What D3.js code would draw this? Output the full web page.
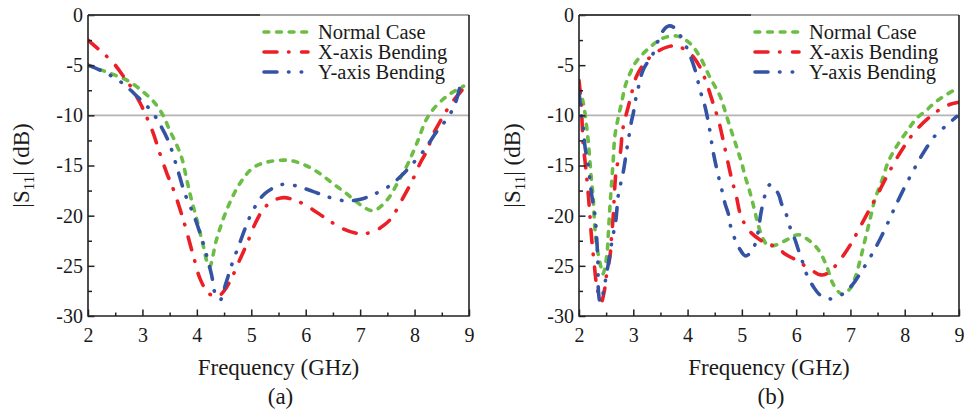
<!DOCTYPE html>
<html>
<head>
<meta charset="utf-8">
<script src="https://cdn.jsdelivr.net/npm/d3@7"></script>
<style>
  body { margin: 0; background: #fff; }
  svg { display: block; }
  text { font-family: 'Liberation Serif', 'Times New Roman', Times, 'DejaVu Serif', serif; }
</style>
</head>
<body>
<svg width="969" height="414"></svg>
<script>
const seriesNames = ['Normal Case', 'X-axis Bending', 'Y-axis Bending']
const panelTags = ['(a)', '(b)']
const xTicks = [2, 3, 4, 5, 6, 7, 8, 9]
const yTicks = [0, -5, -10, -15, -20, -25, -30]
const refLevel = -10

const aNormal = [[2.0,-5.0],[2.25,-5.5],[2.5,-6.0],[2.75,-6.6],[3.0,-7.6],[3.2,-8.6],[3.38,-10.0],[3.5,-11.5],
  [3.6,-12.6],[3.72,-14.2],[3.81,-16.3],[3.9,-18.4],[4.0,-20.4],[4.1,-22.6],[4.23,-25.1],[4.36,-22.4],
  [4.55,-19.4],[4.79,-16.8],[5.04,-15.2],[5.34,-14.6],[5.7,-14.5],[6.0,-15.0],[6.26,-15.8],[6.5,-16.8],
  [6.75,-17.8],[7.0,-18.9],[7.24,-19.5],[7.5,-18.4],[7.7,-16.6],[7.88,-14.8],[8.04,-12.8],[8.26,-10.0],
  [8.59,-8.1],[8.9,-7.1]]
const aXBend = [[2.0,-2.5],[2.17,-3.3],[2.34,-4.1],[2.5,-5.0],[2.65,-6.1],[2.77,-7.0],[2.96,-8.8],[3.08,-10.2],
  [3.2,-11.8],[3.32,-13.8],[3.45,-15.8],[3.57,-17.4],[3.75,-20.4],[3.94,-24.1],[4.06,-26.3],[4.21,-27.7],
  [4.37,-28.1],[4.5,-27.5],[4.64,-26.2],[4.78,-24.5],[4.92,-22.8],[5.07,-20.8],[5.23,-19.3],[5.4,-18.5],
  [5.6,-18.2],[5.77,-18.4],[5.95,-18.8],[6.13,-19.4],[6.38,-20.3],[6.68,-21.3],[6.99,-21.8],[7.24,-21.6],
  [7.45,-20.9],[7.58,-20.2],[7.76,-18.5],[7.95,-16.6],[8.1,-14.8],[8.22,-13.6],[8.35,-11.8],[8.47,-10.6],
  [8.59,-9.5],[8.72,-8.5],[8.87,-7.5]]
const aYBend = [[2.0,-5.0],[2.22,-5.5],[2.5,-6.3],[2.68,-7.0],[2.9,-8.1],[3.05,-8.9],[3.17,-9.6],[3.29,-10.6],
  [3.48,-12.6],[3.63,-15.1],[3.78,-17.8],[3.94,-19.9],[4.05,-21.6],[4.15,-23.4],[4.27,-25.9],[4.35,-28.0],
  [4.43,-28.4],[4.53,-26.8],[4.64,-24.9],[4.79,-22.7],[4.95,-20.4],[5.07,-19.1],[5.25,-17.8],[5.56,-16.9],
  [5.8,-17.0],[6.14,-17.6],[6.45,-18.2],[6.7,-18.5],[6.99,-18.4],[7.24,-17.9],[7.52,-17.1],[7.76,-16.0],
  [7.95,-14.9],[8.16,-13.6],[8.41,-11.6],[8.56,-10.6],[8.68,-9.6],[8.76,-8.6],[8.84,-7.0]]

const bNormal = [[2.0,-7.2],[2.08,-8.8],[2.14,-11.1],[2.17,-12.6],[2.2,-14.5],[2.23,-16.5],[2.26,-18.1],
  [2.29,-21.1],[2.33,-23.1],[2.39,-24.8],[2.44,-25.8],[2.51,-24.1],[2.54,-21.8],[2.57,-19.1],[2.6,-16.8],
  [2.63,-14.5],[2.66,-12.1],[2.72,-10.3],[2.79,-8.6],[2.85,-7.1],[2.94,-5.8],[3.06,-4.6],[3.31,-3.2],
  [3.55,-2.3],[3.8,-2.1],[4.04,-2.8],[4.23,-4.2],[4.41,-6.2],[4.6,-8.1],[4.72,-10.1],[4.84,-12.1],
  [4.93,-13.6],[5.0,-14.8],[5.06,-16.1],[5.12,-17.1],[5.18,-18.3],[5.24,-19.6],[5.3,-20.9],[5.39,-22.3],
  [5.49,-23.0],[5.64,-22.9],[5.83,-22.4],[6.04,-21.9],[6.22,-22.4],[6.41,-23.4],[6.56,-25.0],[6.68,-26.8],
  [6.84,-27.8],[6.99,-27.3],[7.08,-26.3],[7.18,-24.4],[7.27,-22.4],[7.36,-20.4],[7.45,-18.4],[7.58,-16.5],
  [7.7,-14.6],[7.85,-13.1],[8.04,-11.6],[8.22,-10.3],[8.4,-9.5],[8.56,-8.7],[8.75,-8.0],[9.0,-7.2]]
const bXBend = [[2.0,-6.5],[2.04,-8.8],[2.06,-11.1],[2.08,-13.1],[2.11,-14.5],[2.14,-16.1],[2.17,-17.8],
  [2.2,-19.9],[2.23,-22.1],[2.28,-24.8],[2.33,-27.1],[2.41,-28.6],[2.47,-27.4],[2.51,-25.8],[2.57,-24.1],
  [2.6,-22.1],[2.63,-20.1],[2.66,-17.1],[2.69,-15.3],[2.76,-13.8],[2.8,-11.6],[2.85,-10.3],[2.9,-9.3],
  [2.96,-8.0],[3.06,-6.1],[3.22,-4.7],[3.43,-3.7],[3.62,-3.2],[3.8,-3.1],[4.04,-3.8],[4.23,-5.2],
  [4.35,-6.8],[4.47,-8.8],[4.57,-10.5],[4.66,-12.6],[4.72,-14.1],[4.81,-16.3],[4.9,-18.1],[4.97,-19.8],
  [5.12,-21.4],[5.39,-22.6],[5.67,-23.2],[5.79,-23.8],[5.99,-24.4],[6.25,-25.3],[6.45,-25.9],[6.59,-25.7],
  [6.81,-24.4],[7.01,-22.8],[7.18,-21.1],[7.34,-19.5],[7.48,-18.1],[7.65,-16.3],[7.82,-14.6],[7.99,-13.1],
  [8.19,-11.6],[8.43,-10.3],[8.68,-9.3],[8.84,-8.9],[9.0,-8.7]]
const bYBend = [[2.0,-7.6],[2.04,-9.8],[2.08,-11.3],[2.11,-13.1],[2.17,-15.0],[2.23,-17.8],[2.29,-19.8],
  [2.33,-22.6],[2.35,-25.0],[2.36,-27.7],[2.39,-28.6],[2.45,-27.6],[2.5,-26.0],[2.54,-24.8],[2.59,-23.1],
  [2.63,-21.9],[2.68,-20.4],[2.72,-18.1],[2.76,-17.0],[2.82,-15.5],[2.88,-13.4],[2.92,-12.1],[2.97,-10.5],
  [3.0,-9.8],[3.04,-8.5],[3.09,-7.3],[3.18,-5.5],[3.37,-3.8],[3.52,-1.8],[3.65,-1.1],[3.77,-1.3],
  [3.86,-2.0],[3.98,-3.2],[4.14,-5.5],[4.23,-7.5],[4.32,-9.1],[4.41,-11.5],[4.47,-13.6],[4.57,-16.1],
  [4.63,-17.4],[4.69,-18.8],[4.75,-19.8],[4.79,-21.0],[4.87,-22.3],[4.97,-23.4],[5.06,-24.0],[5.14,-23.8],
  [5.24,-22.9],[5.3,-21.6],[5.35,-19.8],[5.43,-17.9],[5.52,-16.9],[5.67,-17.8],[5.73,-18.8],[5.82,-19.9],
  [5.89,-21.2],[5.98,-22.4],[6.04,-23.4],[6.13,-24.8],[6.19,-25.8],[6.32,-27.1],[6.44,-27.9],[6.65,-28.3],
  [6.86,-27.8],[7.05,-26.8],[7.14,-26.1],[7.28,-24.9],[7.39,-23.9],[7.54,-22.4],[7.7,-20.6],[7.8,-19.4],
  [7.94,-17.8],[8.1,-16.1],[8.21,-15.0],[8.37,-13.5],[8.58,-11.9],[8.75,-11.1],[8.96,-10.1]]

const panelA = [aNormal, aXBend, aYBend]
const panelB = [bNormal, bXBend, bYBend]

const colors = ['#6cbd45', '#ec1f27', '#3453a4']
const dashes = ['4.8,7.8', '13,11.5,0.5,12.5', '13,11.5,0.5,12.2,0.5,11.5']
const serif = "'Liberation Serif', 'Times New Roman', Times, 'DejaVu Serif', serif"

const svg = d3.select('svg')
const height = 316 - 15

function drawPanel(series, tag, left, right, idx) {
    const x = d3.scaleLinear().domain([2, 9]).range([left, right])
    const y = d3.scaleLinear().domain([-30, 0]).range([316, 15])
    const g = svg.append('g')

    g.append('clipPath').attr('id', 'clip' + idx)
        .append('rect')
        .attr('x', left).attr('y', 15)
        .attr('width', right - left).attr('height', height)

    // -10 dB reference line
    g.append('line')
        .attr('x1', left).attr('x2', right)
        .attr('y1', y(refLevel)).attr('y2', y(refLevel))
        .attr('stroke', '#b4b4b4')
        .attr('stroke-width', 1.6)

    const line = d3.line()
        .x(d => x(d[0]))
        .y(d => y(d[1]))
        .curve(d3.curveCatmullRom.alpha(0.5))

    g.append('g')
        .attr('clip-path', `url(#clip${idx})`)
        .selectAll('path')
        .data(series)
        .join('path')
            .attr('d', d => line(d))
            .attr('fill', 'none')
            .attr('stroke', (d, i) => colors[i])
            .attr('stroke-width', 3.6)
            .attr('stroke-linecap', 'round')
            .attr('stroke-dasharray', (d, i) => dashes[i])

    // minor ticks
    g.append('g')
        .attr('transform', `translate(0,${y(-30)})`)
        .call(d3.axisBottom(x).tickValues(d3.range(2.5, 9, 1)).tickSize(-3.5).tickFormat(''))
    g.append('g')
        .attr('transform', `translate(${left},0)`)
        .call(d3.axisLeft(y).tickValues(d3.range(-27.5, 0, 5)).tickSize(-4).tickFormat(''))

    g.append('g')
        .attr('transform', `translate(0,${y(-30)})`)
        .call(d3.axisBottom(x).tickValues(xTicks).tickSize(-6.5).tickPadding(12).tickFormat(d => d))
    g.append('g')
        .attr('transform', `translate(${left},0)`)
        .call(d3.axisLeft(y).tickValues(yTicks).tickSize(-6.5).tickPadding(5).tickFormat(d => String(d)))

    g.selectAll('.domain').remove()
    g.selectAll('.tick line').attr('stroke', '#222').attr('stroke-width', 1.5)
    g.selectAll('.tick text')
        .attr('font-family', serif)
        .attr('font-size', 20)
        .attr('fill', '#1a1a1a')

    // frame
    g.append('line').attr('x1', left).attr('x2', right).attr('y1', 15).attr('y2', 15)
        .attr('stroke', '#8a8a8a').attr('stroke-width', 1.5)
    g.append('line').attr('x1', left).attr('x2', left + 172).attr('y1', 15).attr('y2', 15)
        .attr('stroke', '#222').attr('stroke-width', 1.5)
    g.append('path')
        .attr('d', `M${right},15V316H${left}V15`)
        .attr('fill', 'none')
        .attr('stroke', '#222')
        .attr('stroke-width', 1.6)

    // axis titles
    const mid = (left + right) / 2
    g.append('text')
        .attr('x', mid).attr('y', 375)
        .attr('text-anchor', 'middle')
        .attr('font-family', serif)
        .attr('font-size', 23)
        .attr('fill', '#1a1a1a')
        .text('Frequency (GHz)')
    g.append('text')
        .attr('x', mid + 2).attr('y', 404)
        .attr('text-anchor', 'middle')
        .attr('font-family', serif)
        .attr('font-size', 23)
        .attr('fill', '#1a1a1a')
        .text(tag)

    const yl = g.append('text')
        .attr('transform', `translate(${left - 59},${(15 + 316) / 2}) rotate(-90)`)
        .attr('text-anchor', 'middle')
        .attr('font-family', serif)
        .attr('font-size', 23)
        .attr('fill', '#1a1a1a')
    yl.append('tspan').text('|S')
    yl.append('tspan').text('11').attr('font-size', 15).attr('dy', 5)
    yl.append('tspan').text('| (dB)').attr('dy', -5)

    // legend
    const legend = g.append('g')
        .selectAll('g')
        .data(seriesNames)
        .join('g')
            .attr('transform', (d, i) => `translate(${left + 176},${32 + i * 20})`)
    legend.append('line')
        .attr('x1', 0).attr('x2', 44)
        .attr('stroke', (d, i) => colors[i])
        .attr('stroke-width', 3.6)
        .attr('stroke-linecap', 'round')
        .attr('stroke-dasharray', (d, i) => dashes[i])
    legend.append('text')
        .attr('x', 54).attr('y', 7)
        .attr('font-family', serif)
        .attr('font-size', 20.5)
        .attr('fill', '#1a1a1a')
        .text(d => d)
}

drawPanel(panelA, panelTags[0], 88, 469, 0)
drawPanel(panelB, panelTags[1], 579, 959, 1)
</script>
</body>
</html>
